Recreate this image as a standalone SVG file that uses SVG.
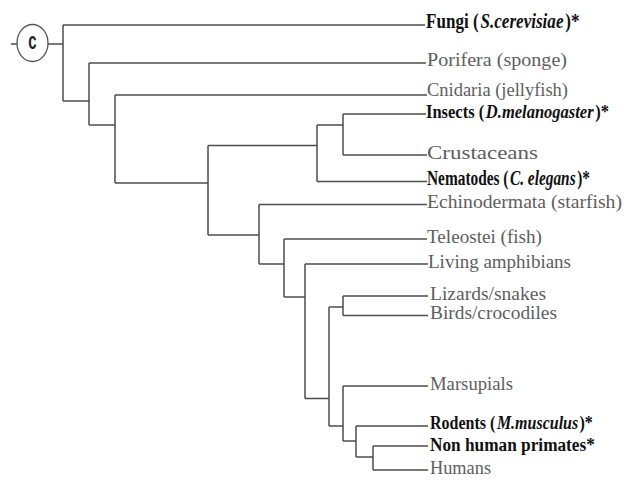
<svg xmlns="http://www.w3.org/2000/svg" width="626" height="482" viewBox="0 0 626 482">
<style>
.e{fill:none;stroke:#4d4d4d;stroke-width:1.5}
.t{font-family:"Liberation Serif","DejaVu Serif",serif;font-size:19px;fill:#5e5e5e}
.b{font-family:"Liberation Serif","DejaVu Serif",serif;font-size:20px;font-weight:bold;fill:#111}
.s{font-size:19.5px}
.i{font-style:italic}
</style>
<rect width="626" height="482" fill="#fff"/>
<g id="connectors">
<path class="e" d="M11,44H17M48,44H63M63,25V101M63,25H425M63,101H89M89,63V125M89,63H426M89,125H115M115,95V183M115,95H427M115,183H208M208,145.5V235M208,145.5H317M317,125V181.5M317,125H343M343,114V155M343,114H426M343,155H427M317,181.5H427M208,235H259M259,204.5V264M259,204.5H427M259,264H284M284,239V297M284,239H427M284,297H305M305,264V398.5M305,264H428M305,398.5H329M329,307V426M329,307H343M343,296V315.5M343,296H428M343,315.5H428M329,426H343M343,386V441M343,386H428M343,441H356M356,426V457M356,426H428M356,457H373M373,446V470M373,446H428M373,470H428"/>
</g>
<g id="root">
<ellipse cx="32.5" cy="43" rx="15.5" ry="18.5" fill="#fff" stroke="#555" stroke-width="1.3"/>
<text x="0" y="0" transform="translate(32.5,49) scale(0.62,1)" text-anchor="middle" font-family="Liberation Sans,Arial,sans-serif" font-weight="bold" font-size="24" fill="#222">c</text>
</g>
<g id="fungi" transform="translate(426,28) scale(0.855,1)">
<text class="b" x="0" y="0">Fungi (</text>
<text class="b i" x="63.7" y="0">S.cerevisiae</text>
<text class="b" x="163" y="0">)*</text>
</g>
<g id="porifera"><text class="t" x="427" y="66" textLength="140" lengthAdjust="spacingAndGlyphs">Porifera (sponge)</text></g>
<g id="cnidaria"><text class="t" x="427" y="96.3" textLength="141" lengthAdjust="spacingAndGlyphs">Cnidaria (jellyfish)</text></g>
<g id="insects" transform="translate(426,118) scale(0.847,1)">
<text class="b s" x="0" y="0">Insects (</text>
<text class="b s i" x="70.7" y="0">D.melanogaster</text>
<text class="b s" x="199.9" y="0">)*</text>
</g>
<g id="crustaceans"><text class="t" x="427" y="158.5" textLength="111" lengthAdjust="spacingAndGlyphs">Crustaceans</text></g>
<g id="nematodes" transform="translate(427,185) scale(0.768,1)">
<text class="b" x="0" y="0">Nematodes (</text>
<text class="b i" x="108" y="0">C. elegans</text>
<text class="b" x="195.5" y="0">)*</text>
</g>
<g id="echinodermata"><text class="t" x="427" y="208" textLength="195" lengthAdjust="spacingAndGlyphs">Echinodermata (starfish)</text></g>
<g id="teleostei"><text class="t" x="427" y="242.5" textLength="115" lengthAdjust="spacingAndGlyphs">Teleostei (fish)</text></g>
<g id="amphibians"><text class="t" x="428" y="267.5" textLength="143" lengthAdjust="spacingAndGlyphs">Living amphibians</text></g>
<g id="lizards"><text class="t" x="430" y="299.5" textLength="116" lengthAdjust="spacingAndGlyphs">Lizards/snakes</text></g>
<g id="birds"><text class="t" x="430" y="319" textLength="127" lengthAdjust="spacingAndGlyphs">Birds/crocodiles</text></g>
<g id="marsupials"><text class="t" x="430" y="389.5" textLength="83" lengthAdjust="spacingAndGlyphs">Marsupials</text></g>
<g id="rodents" transform="translate(430,428.5) scale(0.82,1)">
<text class="b s" x="0" y="0">Rodents (</text>
<text class="b s i" x="81.6" y="0">M.musculus</text>
<text class="b s" x="182.3" y="0">)*</text>
</g>
<g id="primates" transform="translate(430,450.6) scale(0.885,1)"><text class="b s" x="0" y="0">Non human primates*</text></g>
<g id="humans"><text class="t" x="430" y="473.5" textLength="61" lengthAdjust="spacingAndGlyphs">Humans</text></g>
</svg>
